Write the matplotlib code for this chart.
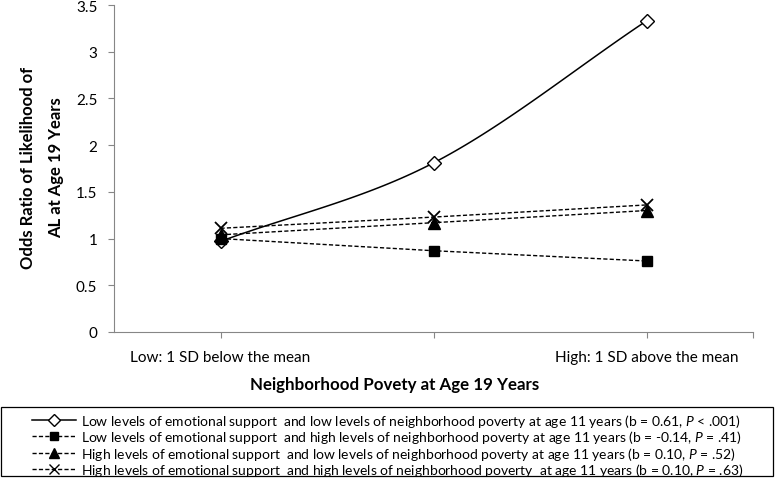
import numpy as np
import matplotlib
matplotlib.use('Agg')
import matplotlib.pyplot as plt
from matplotlib.lines import Line2D
from matplotlib.patches import Rectangle

plt.rcParams['font.family'] = ['Lato', 'DejaVu Sans']
plt.rcParams['mathtext.fontset'] = 'custom'
plt.rcParams['mathtext.it'] = 'Lato:italic'
plt.rcParams['mathtext.rm'] = 'Lato'

categories = ['Low: 1 SD below the mean', '', 'High: 1 SD above the mean']
low_support_low_pov = [0.97, 1.81, 3.33]
low_support_high_pov = [1.00, 0.87, 0.76]
high_support_low_pov = [1.04, 1.17, 1.30]
high_support_high_pov = [1.11, 1.23, 1.36]

labels = [
    'Low levels of emotional support  and low levels of neighborhood poverty at age 11 years (b = 0.61, $\\it{P}$ < .001)',
    'Low levels of emotional support  and high levels of neighborhood poverty at age 11 years (b = -0.14, $\\it{P}$ = .41)',
    'High levels of emotional support  and low levels of neighborhood poverty at age 11 years (b = 0.10, $\\it{P}$ = .52)',
    'High levels of emotional support  and high levels of neighborhood poverty  at age 11 years (b = 0.10, $\\it{P}$ = .63)',
]


def smooth(x, y, n=40):
    # catmull-rom through the points, like Excel's smoothed line
    x = np.asarray(x, float)
    y = np.asarray(y, float)
    px = np.concatenate([[2 * x[0] - x[1]], x, [2 * x[-1] - x[-2]]])
    py = np.concatenate([[2 * y[0] - y[1]], y, [2 * y[-1] - y[-2]]])
    xs, ys = [], []
    t = np.linspace(0, 1, n)
    for i in range(1, len(px) - 2):
        for p, out in ((px, xs), (py, ys)):
            p0, p1, p2, p3 = p[i - 1], p[i], p[i + 1], p[i + 2]
            out.extend(0.5 * (2 * p1 + (-p0 + p2) * t
                              + (2 * p0 - 5 * p1 + 4 * p2 - p3) * t ** 2
                              + (-p0 + 3 * p1 - 3 * p2 + p3) * t ** 3))
    return xs, ys


fig = plt.figure(figsize=(7.75, 4.81), dpi=100)
ax = fig.add_axes([114 / 775, 1 - 333 / 481, (753 - 114) / 775, (333 - 6) / 481])

x = np.arange(len(categories))
dash = (0, (3, 1.6))

sx, sy = smooth(x, low_support_low_pov)
ax.plot(sx, sy, color='black', lw=1.1)
ax.plot(x, low_support_low_pov, ls='none', marker='D', ms=7, mfc='white', mec='black', mew=1)
ax.plot(x, low_support_high_pov, color='black', lw=1, ls=dash, marker='s', ms=7)
ax.plot(x, high_support_low_pov, color='black', lw=1, ls=dash, marker='^', ms=8)
ax.plot(x, high_support_high_pov, color='black', lw=1, ls=dash, marker='x', ms=8, mew=1.3)

ax.set_xlim(-0.5, 2.5)
ax.set_ylim(0, 3.5)
ax.set_yticks(np.arange(0, 3.51, 0.5))
ax.set_yticklabels(['0', '0.5', '1', '1.5', '2', '2.5', '3', '3.5'])
ax.set_xticks([0, 1, 2, 2.5])
ax.set_xticklabels(categories + [''])
ax.tick_params(labelsize=11, color='#868686', length=4, pad=8)
ax.tick_params(axis='x', pad=9)
for s in ['top', 'right']:
    ax.spines[s].set_visible(False)
for s in ['left', 'bottom']:
    ax.spines[s].set_color('#868686')

fig.text(395 / 775, 1 - 385 / 481, 'Neighborhood Povety at Age 19 Years', ha='center', va='center',
         fontsize=12.2, fontweight='bold')
fig.text(42 / 775, 1 - 168 / 481, 'Odds Ratio of Likelihood of\nAL at Age 19 Years', ha='center', va='center',
         rotation=90, fontsize=12, fontweight='bold', linespacing=1.95)

# legend box drawn separately so the entries can sit indented like the original
fig.patches.append(Rectangle((1 / 775, 1 - 477 / 481), 772 / 775, 69 / 481, transform=fig.transFigure,
                             fill=False, edgecolor='black', lw=0.9))

handles = [
    Line2D([], [], color='black', lw=1.1, marker='D', ms=6, mfc='white', mec='black'),
    Line2D([], [], color='black', lw=1, ls=dash, marker='s', ms=6),
    Line2D([], [], color='black', lw=1, ls=dash, marker='^', ms=7),
    Line2D([], [], color='black', lw=1, ls=dash, marker='x', ms=7),
]
leg = fig.legend(handles, labels, loc='upper left', bbox_to_anchor=(32 / 775, 1 - 413 / 481),
                 fontsize=10, frameon=False, handlelength=3.2,
                 handletextpad=0.3, labelspacing=-0.05, borderpad=0, borderaxespad=0)

fig.savefig('out.png', dpi=100)
